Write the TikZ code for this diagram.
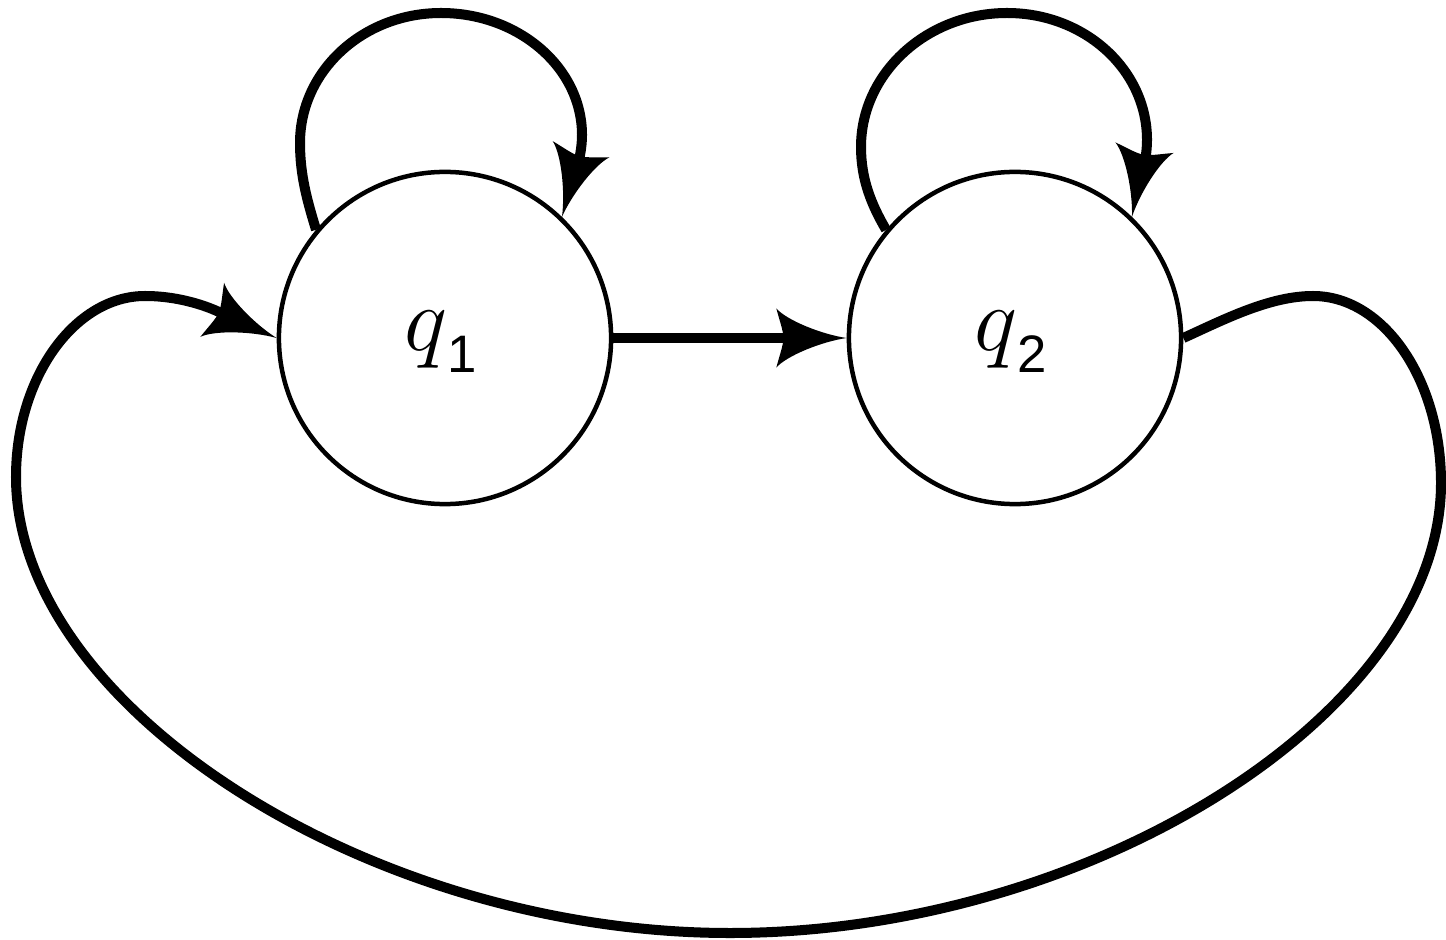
\RequirePackage{fix-cm}
\documentclass[tikz,border=0pt]{standalone}
\usepackage{fontspec}
\setsansfont{Liberation Sans}
\usetikzlibrary{arrows.meta}
\pgfdeclarearrow{
  name = Curvy,
  parameters = {\the\pgfarrowlength},
  defaults = {length = 20pt},
  setup code = {
    \pgfarrowssettipend{0pt}
    \pgfarrowssetbackend{-20pt}
    \pgfarrowssetlineend{-16pt}
    \pgfarrowshullpoint{0pt}{0pt}
    \pgfarrowshullpoint{-20pt}{8.4pt}
    \pgfarrowshullpoint{-20pt}{-8.4pt}
  },
  drawing code = {
    \pgfpathmoveto{\pgfqpoint{0pt}{0pt}}
    \pgfpathcurveto{\pgfqpoint{-7pt}{1pt}}{\pgfqpoint{-17pt}{5pt}}{\pgfqpoint{-20pt}{8.4pt}}
    \pgfpathcurveto{\pgfqpoint{-19pt}{4.6pt}}{\pgfqpoint{-18pt}{2.1pt}}{\pgfqpoint{-18pt}{0pt}}
    \pgfpathcurveto{\pgfqpoint{-18pt}{-2.1pt}}{\pgfqpoint{-19pt}{-4.6pt}}{\pgfqpoint{-20pt}{-8.4pt}}
    \pgfpathcurveto{\pgfqpoint{-17pt}{-5pt}}{\pgfqpoint{-7pt}{-1pt}}{\pgfqpoint{0pt}{0pt}}
    \pgfpathclose
    \pgfusepathqfill
  }
}
\newcommand{\qlab}[1]{\fontsize{26pt}{26pt}\selectfont$q$\raisebox{-6.5pt}{\fontsize{15pt}{15pt}\selectfont\sffamily #1}}
\tikzset{
  state/.style={draw=black, line width=0.045cm, circle, minimum size=3.32cm, inner sep=0pt},
  statelabel/.style={anchor=base, inner sep=0pt},
  edge/.style={draw=black, line width=0.1cm, -{Curvy}}
}
\begin{document}
\begin{tikzpicture}[x=0.01cm, y=0.01cm]
\useasboundingbox (0,0) rectangle (1446,939);
\node[state] (q1) at (445,601) {};
\node[state] (q2) at (1015,601) {};
\node[statelabel] (l1) at ([shift={(-0.04cm,-0.12cm)}]q1.center) {\qlab{1}};
\node[statelabel] (l2) at ([shift={(-0.04cm,-0.12cm)}]q2.center) {\qlab{2}};
% loop of q1
\coordinate (a1) at (300,796);
\coordinate (t1) at (441,926);
\coordinate (b1) at (582,804);
% loop of q2
\coordinate (a2) at (861,792);
\coordinate (t2) at (1007,926);
\coordinate (b2) at (1147,799);
% long edge
\coordinate (r1) at (1313,643);
\coordinate (r2) at (1441,456);
\coordinate (bt) at (730,6);
\coordinate (lx) at (16,462);
\coordinate (lp) at (145,643);
\draw[edge] (q1.140) .. controls (307,739) and (300,764) .. (a1)
  .. controls (300,868) and (363,926) .. (t1)
  .. controls (519,926) and (582,871) .. (b1)
  .. controls (582,779) and (571,754) .. (q1.46);
\draw[edge] (q2.140) .. controls (871,735) and (861,760) .. (a2)
  .. controls (861,866) and (927,926) .. (t2)
  .. controls (1085,926) and (1147,869) .. (b2)
  .. controls (1147,774) and (1137,750) .. (q2.46);
\draw[edge] (q1.east) -- (q2.west);
\draw[edge] (q2.east) .. controls (1225,620) and (1270,643) .. (r1)
  .. controls (1384,643) and (1441,559) .. (r2)
  .. controls (1441,226) and (1090,6) .. (bt)
  .. controls (370,6) and (16,232) .. (lx)
  .. controls (16,562) and (75,643) .. (lp)
  .. controls (195,643) and (231,621) .. (q1.west);
\end{tikzpicture}
\end{document}
